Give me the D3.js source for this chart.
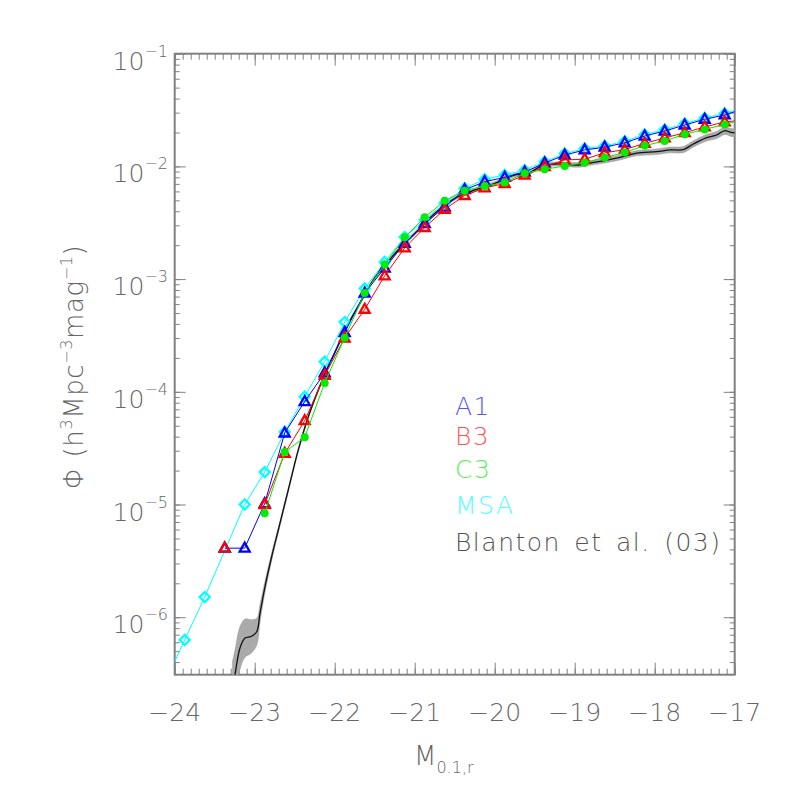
<!DOCTYPE html>
<html>
<head>
<meta charset="utf-8">
<script src="https://cdn.jsdelivr.net/npm/d3@7"></script>
<style>
  body { margin: 0; background: #fff; }
  svg { font-family: "DejaVu Sans", sans-serif; font-weight: 200; }
</style>
</head>
<body>
<div id="chart"></div>
<script>
// magnitude bins (bin centres) shared by the four samples
const mags = [-24.125, -23.875, -23.625, -23.375, -23.125, -22.875, -22.625, -22.375,
  -22.125, -21.875, -21.625, -21.375, -21.125, -20.875, -20.625, -20.375, -20.125,
  -19.875, -19.625, -19.375, -19.125, -18.875, -18.625, -18.375, -18.125, -17.875,
  -17.625, -17.375, -17.125, -16.875];

const phiA1 = [null, null, null, 4.1e-6, 4.1e-6, 1.02e-5, 4.31e-5, 8.2e-5, 1.47e-4, 3.36e-4,
  7.53e-4, 1.25e-3, 2.08e-3, 3.11e-3, 4.36e-3, 6.21e-3, 7.31e-3, 8.0e-3, 8.92e-3, 1.07e-2,
  1.26e-2, 1.40e-2, 1.48e-2, 1.62e-2, 1.86e-2, 2.06e-2, 2.33e-2, 2.62e-2, 2.86e-2, 3.27e-2];

const phiB3 = [null, null, null, 4.1e-6, null, 1.0e-5, 2.84e-5, 5.54e-5, 1.40e-4, 3.0e-4,
  5.40e-4, 1.07e-3, 1.89e-3, 2.87e-3, 4.15e-3, 5.52e-3, 6.46e-3, 7.03e-3, 8.39e-3, 9.98e-3,
  1.14e-2, 1.16e-2, 1.32e-2, 1.41e-2, 1.60e-2, 1.79e-2, 1.99e-2, 2.24e-2, 2.48e-2, 2.58e-2];

const phiC3 = [null, null, null, null, null, 8.35e-6, 2.92e-5, 3.95e-5, 1.20e-4, 3.02e-4,
  7.53e-4, 1.35e-3, 2.35e-3, 3.53e-3, 4.96e-3, 6.09e-3, 6.70e-3, 7.19e-3, 8.69e-3, 9.42e-3,
  1.01e-2, 1.08e-2, 1.20e-2, 1.33e-2, 1.53e-2, 1.68e-2, 1.93e-2, 2.13e-2, 2.36e-2, 2.63e-2];

const phiMSA = [2.61e-7, 6.28e-7, 1.51e-6, null, 1.0e-5, 1.94e-5, 4.40e-5, 9.05e-5, 1.85e-4, 4.16e-4,
  8.26e-4, 1.42e-3, 2.36e-3, 3.34e-3, 4.73e-3, 6.39e-3, 7.68e-3, 8.39e-3, 9.29e-3, 1.10e-2,
  1.30e-2, 1.44e-2, 1.52e-2, 1.67e-2, 1.92e-2, 2.12e-2, 2.40e-2, 2.69e-2, 2.95e-2, 3.35e-2];

// Blanton et al. (2003) curve and its error band (dex)
const blantonM = [-23.278, -23.246, -23.184, -23.121, -23.046, -22.975, -22.934, -22.871, -22.788,
  -22.705, -22.580, -22.455, -22.330, -22.205, -22.100, -21.996, -21.850, -21.684, -21.518, -21.350,
  -21.184, -20.996, -20.746, -20.496, -20.246, -19.996, -19.746, -19.580, -19.413, -19.246, -19.084,
  -18.934, -18.809, -18.643, -18.434, -18.225, -17.975, -17.809, -17.643, -17.518, -17.350, -17.225,
  -17.121, -17.046, -16.934];
const blantonPhi = [2.26e-7, 3.09e-7, 5.33e-7, 6.53e-7, 6.74e-7, 7.43e-7, 1.08e-6, 1.87e-6, 3.44e-6,
  5.94e-6, 1.35e-5, 3.05e-5, 6.01e-5, 1.04e-4, 1.56e-4, 2.25e-4, 3.78e-4, 6.10e-4, 9.82e-4, 1.38e-3,
  1.89e-3, 2.55e-3, 3.84e-3, 5.21e-3, 6.18e-3, 7.08e-3, 8.39e-3, 8.69e-3, 1.01e-2, 1.05e-2, 1.04e-2,
  1.03e-2, 1.07e-2, 1.12e-2, 1.20e-2, 1.31e-2, 1.35e-2, 1.40e-2, 1.41e-2, 1.58e-2, 1.80e-2, 1.90e-2,
  2.08e-2, 2.00e-2, 1.97e-2];
const blantonErr = [0.25, 0.22, 0.19, 0.17, 0.15, 0.12, 0.08, 0.05, 0.035, 0.025, 0.02, 0.015, 0.015,
  0.015, 0.015, 0.015, 0.015, 0.015, 0.015, 0.015, 0.015, 0.015, 0.015, 0.015, 0.015, 0.015, 0.015,
  0.016, 0.017, 0.018, 0.019, 0.02, 0.02, 0.021, 0.022, 0.023, 0.025, 0.026, 0.027, 0.028, 0.03,
  0.032, 0.034, 0.035, 0.036];

const xTickLabels = [-24, -23, -22, -21, -20, -19, -18, -17];
const yTickExps = [-1, -2, -3, -4, -5, -6];

const legendNames = ["A1", "B3", "C3", "MSA", "Blanton et al. (03)"];
const legendColors = ["#5555ff", "#ff5555", "#55ee55", "#55ffff", "#555555"];

(function () {
var svg = d3.select("#chart").append("svg")
  .attr("width", 786).attr("height", 786);

var pLeft = 174.7, pRight = 734.7, pTop = 53.7, pBottom = 674.7;

var x = d3.scaleLinear().domain([-24, -17]).range([pLeft, pRight]);
var y = d3.scaleLog().domain([Math.pow(10, -6.51), 0.1]).range([pBottom, pTop]);

svg.append("defs").append("clipPath").attr("id", "plotclip")
  .append("rect").attr("x", pLeft).attr("y", pTop)
  .attr("width", pRight - pLeft).attr("height", pBottom - pTop);

/* ticks on all four sides, pointing inwards */
var xMinor = x.ticks(70);
var yMinor = y.ticks();
var yMajor = yTickExps.map(e => Math.pow(10, e));
var axisColor = "#808080";
var textColor = "#666";

function tickAxis(axis, tx, ty) {
  var g = svg.append("g").attr("transform", "translate(" + tx + "," + ty + ")").call(axis);
  g.select(".domain").remove();
  g.selectAll("line").attr("stroke", axisColor);
  return g;
}
tickAxis(d3.axisBottom(x).tickValues(xMinor).tickSize(-6).tickFormat(""), 0, pBottom);
tickAxis(d3.axisBottom(x).tickValues(xTickLabels).tickSize(-12).tickFormat(""), 0, pBottom);
tickAxis(d3.axisTop(x).tickValues(xMinor).tickSize(-6).tickFormat(""), 0, pTop);
tickAxis(d3.axisTop(x).tickValues(xTickLabels).tickSize(-12).tickFormat(""), 0, pTop);
tickAxis(d3.axisLeft(y).tickValues(yMinor).tickSize(-5).tickFormat(""), pLeft, 0);
tickAxis(d3.axisLeft(y).tickValues(yMajor).tickSize(-11).tickFormat(""), pLeft, 0);
tickAxis(d3.axisRight(y).tickValues(yMinor).tickSize(-5).tickFormat(""), pRight, 0);
tickAxis(d3.axisRight(y).tickValues(yMajor).tickSize(-11).tickFormat(""), pRight, 0);

svg.append("rect")
  .attr("x", pLeft).attr("y", pTop)
  .attr("width", pRight - pLeft).attr("height", pBottom - pTop)
  .attr("fill", "none").attr("stroke", axisColor).attr("stroke-width", 2);

/* tick labels */
svg.selectAll(".xlab").data(xTickLabels).enter().append("text")
  .attr("x", d => x(d)).attr("y", 721)
  .attr("text-anchor", "middle")
  .style("font-size", "25px").attr("fill", textColor)
  .text(d => "\u2212" + Math.abs(d));

var ylab = svg.selectAll(".ylab").data(yTickExps).enter().append("text")
  .attr("x", 168).attr("y", d => y(Math.pow(10, d)) + 16)
  .attr("text-anchor", "end")
  .style("font-size", "25px").attr("fill", textColor);
ylab.append("tspan").text("10");
ylab.append("tspan").attr("dy", -13).style("font-size", "16px")
  .text(d => "\u2212" + Math.abs(d));

/* axis titles */
var xt = svg.append("text").attr("x", 414).attr("y", 765)
  .style("font-size", "26px").attr("fill", textColor);
xt.append("tspan").text("M");
xt.append("tspan").attr("dy", 8).style("font-size", "16px").text("0.1,r");

var yt = svg.append("text")
  .attr("transform", "translate(83,367) rotate(-90)")
  .attr("text-anchor", "middle")
  .style("font-size", "26px").style("letter-spacing", "0.6px").attr("fill", textColor);
yt.append("tspan").text("\u03A6 (h");
yt.append("tspan").attr("dy", -11).style("font-size", "16px").text("3");
yt.append("tspan").attr("dy", 11).text("Mpc");
yt.append("tspan").attr("dy", -11).style("font-size", "16px").text("\u22123");
yt.append("tspan").attr("dy", 11).text("mag");
yt.append("tspan").attr("dy", -11).style("font-size", "16px").text("\u22121");
yt.append("tspan").attr("dy", 11).text(")");

var plot = svg.append("g").attr("clip-path", "url(#plotclip)");

/* Blanton band + line */
var blanton = blantonM.map((m, i) => ({ m: m, v: blantonPhi[i], e: blantonErr[i] }));
plot.append("path").datum(blanton)
  .attr("fill", "#aaaaaa").attr("stroke", "#999").attr("stroke-width", 0.5)
  .attr("d", d3.area().curve(d3.curveCatmullRom)
    .x(d => x(d.m))
    .y0(d => y(d.v * Math.pow(10, -d.e)))
    .y1(d => y(d.v * Math.pow(10, d.e))));
plot.append("path").datum(blanton)
  .attr("fill", "none").attr("stroke", "#111").attr("stroke-width", 1.3)
  .attr("d", d3.line().curve(d3.curveCatmullRom).x(d => x(d.m)).y(d => y(d.v)));

/* samples: MSA first so the triangles sit on top */
var series = [
  { values: phiMSA, color: "#00ffff", marker: "diamond", bridge: true },
  { values: phiA1, color: "#0000ff", marker: "triangle", bridge: true },
  { values: phiB3, color: "#ff0000", marker: "triangle", bridge: false },
  { values: phiC3, color: "#00ee00", marker: "circle", bridge: true }
];

var tri = "M0,-5.5L5,3.5L-5,3.5Z";
var dia = "M0,-5L5,0L0,5L-5,0Z";

series.forEach(function (s) {
  var pts = mags.map((m, i) => ({ m: m, v: s.values[i] }));
  var line = d3.line().x(d => x(d.m)).y(d => y(d.v));
  var lineData = pts;
  if (s.bridge) lineData = pts.filter(d => d.v != null);
  else line.defined(d => d.v != null);
  plot.append("path").datum(lineData)
    .attr("fill", "none").attr("stroke", s.color).attr("stroke-width", 1)
    .attr("d", line);

  var valid = pts.filter(d => d.v != null);
  if (s.marker == "circle") {
    plot.selectAll(null).data(valid).enter().append("circle")
      .attr("cx", d => x(d.m)).attr("cy", d => y(d.v)).attr("r", 4)
      .attr("fill", s.color);
  } else {
    plot.selectAll(null).data(valid).enter().append("path")
      .attr("transform", d => "translate(" + x(d.m) + "," + y(d.v) + ")")
      .attr("d", s.marker == "triangle" ? tri : dia)
      .attr("fill", "none").attr("stroke", s.color).attr("stroke-width", 2.3);
  }
});

/* legend */
var legendBase = [415, 445, 478, 514, 551];
svg.selectAll(".leg").data(legendNames).enter().append("text")
  .attr("x", 455).attr("y", (d, i) => legendBase[i])
  .style("font-size", "25px").style("letter-spacing", "1.5px").style("word-spacing", "4px")
  .attr("fill", (d, i) => legendColors[i])
  .text(d => d);
})();
</script>
</body>
</html>
